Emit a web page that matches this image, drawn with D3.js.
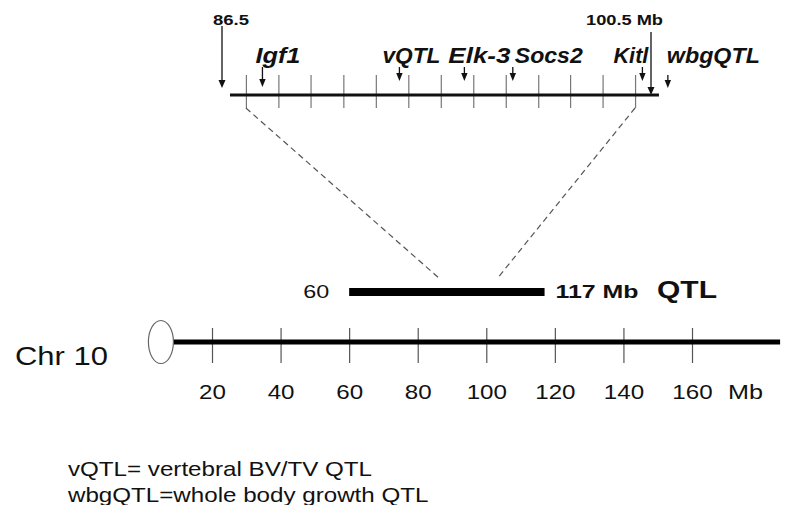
<!DOCTYPE html>
<html>
<head>
<meta charset="utf-8">
<script src="https://cdn.jsdelivr.net/npm/d3@7"></script>
<style>
  body { margin: 0; background: #fff; }
  text { font-family: "Liberation Sans", Arial, sans-serif; fill: #111; }
</style>
</head>
<body>
<div id="my_dataviz"></div>
<script>
// chromosome 10 (Mb)
var chrTicks = [20, 40, 60, 80, 100, 120, 140, 160];
var chrCentromere = 5.1;
var chrEnd = 185.7;
var qtlRange = [60, 117];
var zoomOnChr = [86.5, 103.1];

// zoomed region (Mb)
var mapBounds = [86.5, 100.5];
var mapBoundLabels = ["86.5", "100.5 Mb"];
var mapLine = [86.76, 100.76];
var mapTicks = [87.28, 88.34, 89.39, 90.46, 91.52, 92.58, 93.64, 94.70, 95.76, 96.82, 97.86, 98.92, 99.98];
var genes = ["Igf1", "vQTL", "Elk-3", "Socs2", "Kitl", "wbgQTL"];
var genePos = [87.82, 92.29, 94.41, 95.99, 100.22, 101.05];

var legendLines = ["vQTL= vertebral BV/TV QTL", "wbgQTL=whole body growth QTL"];

var width = 789, height = 505;

var svg = d3.select("#my_dataviz")
  .append("svg")
    .attr("width", width)
    .attr("height", height);

//scales
var x = d3.scaleLinear().domain([20, 160]).range([212, 692]);
var zx = d3.scaleLinear().domain(mapBounds).range([222, 651]);

// stretch text horizontally (the figure's fonts are wide)
function stretch(sel, w) {
  sel.each(function() {
    var len = this.getComputedTextLength();
    d3.select(this)
      .attr("textLength", w || len * 1.15)
      .attr("lengthAdjust", "spacingAndGlyphs");
  });
}

function arrow(g, ax, y1, y2, hw, hl) {
  g.append("line")
    .attr("x1", ax).attr("x2", ax)
    .attr("y1", y1).attr("y2", y2 - hl + 1)
    .attr("stroke", "#111").attr("stroke-width", 1.3);
  g.append("path")
    .attr("d", "M" + (ax - hw) + "," + (y2 - hl) + "L" + (ax + hw) + "," + (y2 - hl) + "L" + ax + "," + y2 + "Z")
    .attr("fill", "#111");
}

//---- zoomed map on top
var mapY = 95;
var mapG = svg.append("g");

mapG.append("g")
  .attr("transform", "translate(0,75)")
  .call(d3.axisBottom(zx).tickValues(mapTicks).tickSize(33).tickFormat(""))
  .call(function(g) { g.select(".domain").remove(); })
  .selectAll("line").attr("stroke", "#777").attr("stroke-width", 1.2);

mapG.append("line")
  .attr("x1", zx(mapLine[0])).attr("x2", zx(mapLine[1]))
  .attr("y1", mapY).attr("y2", mapY)
  .attr("stroke", "#111").attr("stroke-width", 3);

// boundary arrows
arrow(mapG, zx(mapBounds[0]), 26, 88, 3.5, 8);
arrow(mapG, zx(mapBounds[1]), 32, 95, 3.5, 8);
mapG.append("text")
  .attr("x", zx(mapBounds[0]) - 9).attr("y", 25)
  .style("font-size", "14px").style("font-weight", "bold")
  .text(mapBoundLabels[0])
  .call(stretch, 36);
mapG.append("text")
  .attr("x", zx(mapBounds[1]) - 65).attr("y", 25)
  .style("font-size", "15px").style("font-weight", "bold")
  .text(mapBoundLabels[1])
  .call(stretch, 77);

// gene arrows + labels
var arrowTop = [67, 67, 67, 67, 67, 75];
var arrowTip = [87, 81, 81, 81, 81, 88];
var labelShift = [-7, -17, -16, 2, -29, -1];
var labelW = [45, 58, 62, 68, 35, 93];
genes.forEach(function(gname, i) {
  arrow(mapG, zx(genePos[i]), arrowTop[i], arrowTip[i], 3.2, 8);
  mapG.append("text")
    .attr("x", zx(genePos[i]) + labelShift[i]).attr("y", 63)
    .style("font-size", "22px").style("font-weight", "bold").style("font-style", "italic")
    .text(gname)
    .call(stretch, labelW[i]);
});

//dashed lines from map down to the QTL
svg.selectAll(".zoomline")
  .data([0, 1])
  .enter().append("line")
    .attr("class", "zoomline")
    .attr("x1", function(i) { return zx(i ? mapTicks[mapTicks.length - 1] : mapTicks[0]); })
    .attr("y1", 108)
    .attr("x2", function(i) { return x(zoomOnChr[i]); })
    .attr("y2", 279)
    .attr("stroke", "#555").attr("stroke-width", 1.2)
    .attr("stroke-dasharray", "6,4");

//---- QTL bar
var qtlY = 292;
svg.append("line")
  .attr("x1", x(qtlRange[0])).attr("x2", x(qtlRange[1]))
  .attr("y1", qtlY).attr("y2", qtlY)
  .attr("stroke", "#000").attr("stroke-width", 8);
svg.append("text")
  .attr("x", x(qtlRange[0]) - 20).attr("y", 298)
  .style("text-anchor", "end").style("font-size", "19px")
  .text(qtlRange[0])
  .call(stretch, 26);
svg.append("text")
  .attr("x", x(qtlRange[1]) + 11).attr("y", 298)
  .style("font-size", "18px").style("font-weight", "bold")
  .text(qtlRange[1] + " Mb")
  .call(stretch, 83);
svg.append("text")
  .attr("x", 657).attr("y", 298)
  .style("font-size", "23px").style("font-weight", "bold")
  .text("QTL")
  .call(stretch, 60);

//---- chromosome
var chrY = 342;
svg.append("g")
  .attr("transform", "translate(0,328)")
  .call(d3.axisBottom(x).tickValues(chrTicks).tickSize(35).tickPadding(0))
  .call(function(g) {
    g.select(".domain").remove();
    g.selectAll("line").attr("stroke", "#555").attr("stroke-width", 1.2);
    g.selectAll("text")
      .attr("y", 71).attr("dy", null)
      .style("font-size", "21px")
      .style("font-family", "'Liberation Sans', Arial, sans-serif")
      .attr("fill", "#111")
      .call(stretch);
  });

var cenR = 12.5;
svg.append("line")
  .attr("x1", x(chrCentromere) + cenR).attr("x2", x(chrEnd))
  .attr("y1", chrY).attr("y2", chrY)
  .attr("stroke", "#000").attr("stroke-width", 5);
svg.append("ellipse")
  .attr("cx", x(chrCentromere)).attr("cy", chrY)
  .attr("rx", cenR).attr("ry", 21.5)
  .attr("fill", "#fff").attr("stroke", "#666").attr("stroke-width", 1.2);

svg.append("text")
  .attr("x", 728).attr("y", 399)
  .style("font-size", "21px")
  .text("Mb")
  .call(stretch, 35);

svg.append("text")
  .attr("x", 15).attr("y", 365)
  .style("font-size", "25px")
  .text("Chr 10")
  .call(stretch, 93);

//---- legend
svg.selectAll(".legend")
  .data(legendLines)
  .enter().append("text")
    .attr("class", "legend")
    .attr("x", 68)
    .attr("y", function(d, i) { return 476 + i * 26; })
    .style("font-size", "21px")
    .text(function(d) { return d; })
    .call(stretch);
</script>
</body>
</html>
